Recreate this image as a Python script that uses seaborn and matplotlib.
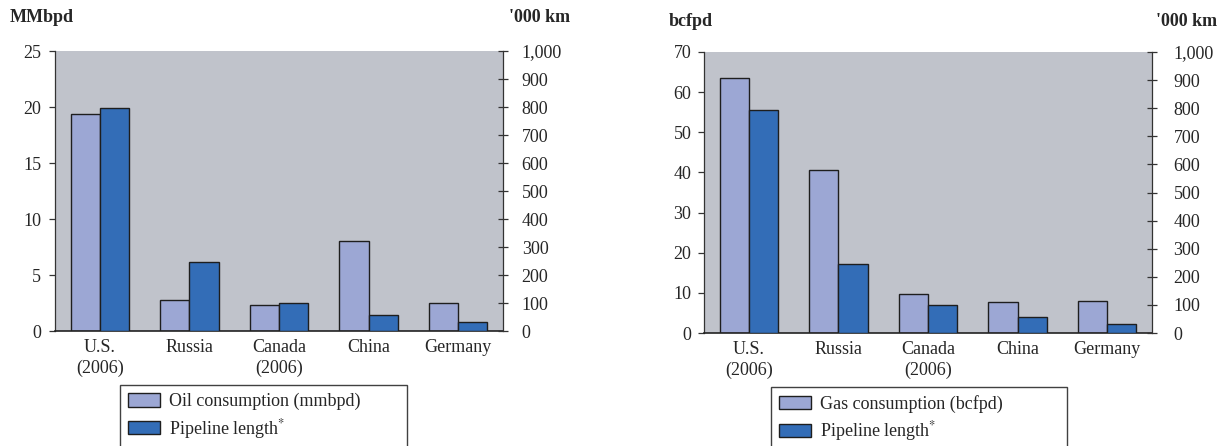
import matplotlib
matplotlib.use("Agg")
import matplotlib.pyplot as plt
import matplotlib.patches as mpatches
import pandas as pd
import seaborn as sns

sns.set_style("white")
plt.rcParams["font.family"] = ["Liberation Serif", "DejaVu Serif"]
plt.rcParams["mathtext.fontset"] = "stix"

# ---- data ----
countries = ["U.S.\n(2006)", "Russia", "Canada\n(2006)", "China", "Germany"]
oil_consumption = [19.4, 2.8, 2.3, 8.0, 2.5]        # MMbpd
gas_consumption = [63.5, 40.5, 9.7, 7.8, 7.9]       # bcfpd
pipeline_length = [795, 247, 99, 58, 31]            # '000 km

oil_ticks = [0, 5, 10, 15, 20, 25]
gas_ticks = [0, 10, 20, 30, 40, 50, 60, 70]
km_ticks = list(range(0, 1001, 100))

LIGHT = "#9ca7d4"
DARK = "#336db7"
BG = "#c0c3cb"
EDGE = "#1e1e1e"
FS = 13


def draw_panel(fig, rect, cons, cons_label, cons_unit, cons_ticks,
               left_pad, right_pad, unit_pos_left, unit_pos_right, legend_box):
    ax = fig.add_axes(rect)
    ax2 = ax.twinx()
    levels = [cons_label, "Pipeline length$^{*}$"]

    df_c = pd.DataFrame({"country": countries, "value": cons, "series": levels[0]})
    df_p = pd.DataFrame({"country": countries, "value": pipeline_length, "series": levels[1]})

    sns.barplot(data=df_c, x="country", y="value", hue="series", hue_order=levels,
                palette=[LIGHT, DARK], width=0.65, dodge=True, ax=ax,
                edgecolor=EDGE, linewidth=1.0, legend=False, saturation=1)
    sns.barplot(data=df_p, x="country", y="value", hue="series", hue_order=levels,
                palette=[LIGHT, DARK], width=0.65, dodge=True, ax=ax2,
                edgecolor=EDGE, linewidth=1.0, legend=False, saturation=1)

    ax.set_facecolor(BG)
    ax.set_xlim(-0.5, len(countries) - 0.5)
    ax.set_ylim(0, cons_ticks[-1])
    ax2.set_ylim(0, 1000)
    ax.set_yticks(cons_ticks)
    ax.set_yticklabels([str(t) for t in cons_ticks], fontsize=FS)
    ax2.set_yticks(km_ticks)
    ax2.set_yticklabels([f"{t:,}" for t in km_ticks], fontsize=FS)
    ax.set_xlabel("")
    ax.set_ylabel("")
    ax2.set_ylabel("")

    # category labels at centres, tick marks at the category boundaries
    ax.set_xticks(range(len(countries)))
    ax.set_xticklabels(countries, fontsize=FS, linespacing=1.25)
    ax.set_xticks([i - 0.5 for i in range(len(countries) + 1)], minor=True)
    ax.tick_params(axis="x", which="major", length=0, pad=6)
    ax.tick_params(axis="x", which="minor", direction="inout", length=7,
                   width=0.9, color="#333333")
    ax.tick_params(axis="y", direction="out", length=4, width=0.9,
                   color="#333333", pad=left_pad)
    ax2.tick_params(axis="y", direction="inout", length=7, width=0.9,
                    color="#333333", pad=right_pad)

    for a in (ax, ax2):
        a.spines["top"].set_visible(False)
        for s in ("left", "right", "bottom"):
            a.spines[s].set_color("#333333")
            a.spines[s].set_linewidth(0.9)
    ax.spines["right"].set_visible(False)
    ax2.spines["left"].set_visible(False)
    ax2.spines["bottom"].set_visible(False)
    ax.spines["bottom"].set_color("#222222")
    ax.spines["bottom"].set_linewidth(1.2)

    fig.text(unit_pos_left[0], unit_pos_left[1], cons_unit, fontsize=FS,
             fontweight="bold", ha="left", va="center")
    fig.text(unit_pos_right[0], unit_pos_right[1], "'000 km", fontsize=FS,
             fontweight="bold", ha="left", va="center")

    handles = [mpatches.Patch(facecolor=LIGHT, edgecolor=EDGE, linewidth=1.0, label=levels[0]),
               mpatches.Patch(facecolor=DARK, edgecolor=EDGE, linewidth=1.0, label=levels[1])]
    leg = fig.legend(handles=handles, loc="upper left", bbox_to_anchor=legend_box,
                     mode="expand", frameon=True, fancybox=False, fontsize=FS,
                     handlelength=1.75, handleheight=0.75, handletextpad=0.5,
                     labelspacing=0.35, borderpad=0.45, borderaxespad=0)
    leg.get_frame().set_edgecolor("#111111")
    leg.get_frame().set_linewidth(1.0)
    return ax, ax2


W, H = 1224, 446
fig = plt.figure(figsize=(W / 100, H / 100), dpi=100)


def rect(x0, x1, ytop, ybot):
    return [x0 / W, 1 - ybot / H, (x1 - x0) / W, (ybot - ytop) / H]


def box(x0, x1, ytop, ybot):
    return (x0 / W, 1 - ybot / H, (x1 - x0) / W, (ybot - ytop) / H)


draw_panel(fig, rect(55, 503, 51, 331), oil_consumption, "Oil consumption (mmbpd)",
           "MMbpd", oil_ticks, 6, 10,
           (10 / W, 1 - 18 / H), (509 / W, 1 - 18 / H), box(120, 407, 385, 470))
draw_panel(fig, rect(704, 1152, 52, 333), gas_consumption, "Gas consumption (bcfpd)",
           "bcfpd", gas_ticks, 5, 12,
           (669 / W, 1 - 22 / H), (1156 / W, 1 - 22 / H), box(771, 1067, 387, 472))

fig.savefig("out.png", dpi=100)
